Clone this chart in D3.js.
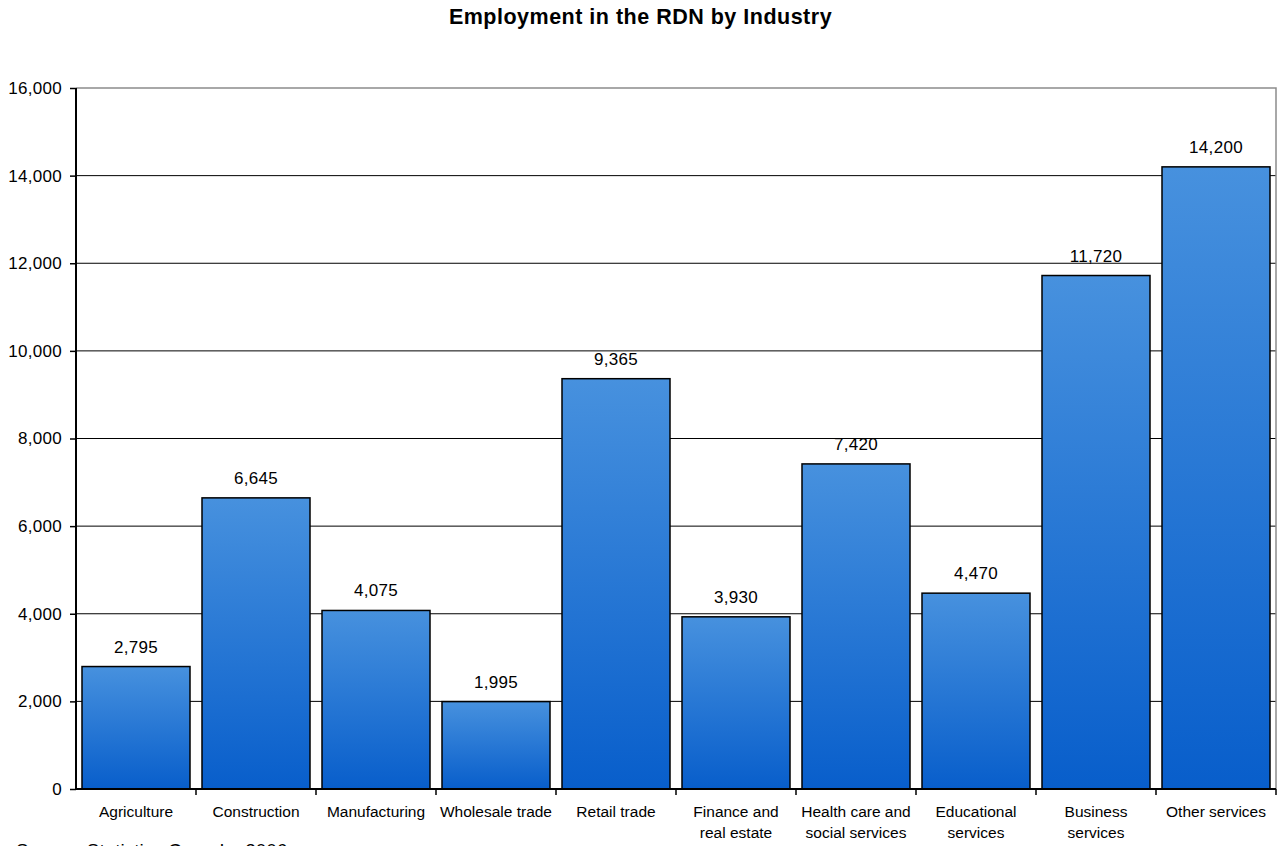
<!DOCTYPE html>
<html>
<head>
<meta charset="utf-8">
<script src="https://cdn.jsdelivr.net/npm/d3@7"></script>
<style>
  body { margin: 0; background: #fff; }
  svg { display: block; font-family: "Liberation Sans", Arial, sans-serif; }
</style>
</head>
<body>
<div id="chart"></div>
<script>
// Chart data
let industries = ["Agriculture", "Construction", "Manufacturing", "Wholesale trade", "Retail trade",
                  "Finance and real estate", "Health care and social services", "Educational services",
                  "Business services", "Other services"];
let labelLines = [["Agriculture"], ["Construction"], ["Manufacturing"], ["Wholesale trade"], ["Retail trade"],
                  ["Finance and", "real estate"], ["Health care and", "social services"], ["Educational", "services"],
                  ["Business", "services"], ["Other services"]];
let employment = [2795, 6645, 4075, 1995, 9365, 3930, 7420, 4470, 11720, 14200];
let yTicks = [0, 2000, 4000, 6000, 8000, 10000, 12000, 14000, 16000];

// Layout
let svgWidth = 1281, svgHeight = 846;
let margin = { top: 88, right: 5, bottom: 57, left: 76 };
let chartWidth = svgWidth - margin.left - margin.right;
let chartHeight = svgHeight - margin.top - margin.bottom;

let svg = d3.select('#chart')
            .append('svg')
            .attr('width', svgWidth)
            .attr('height', svgHeight);

// Bar gradient (light top, dark bottom)
let grad = svg.append('defs').append('linearGradient')
            .attr('id', 'barGrad')
            .attr('x1', 0).attr('y1', 0).attr('x2', 0).attr('y2', 1);
grad.append('stop').attr('offset', '0%').attr('stop-color', '#4791de');
grad.append('stop').attr('offset', '100%').attr('stop-color', '#085ecb');

// Title
svg.append('text')
    .attr('x', svgWidth / 2)
    .attr('y', 24)
    .attr('text-anchor', 'middle')
    .attr('font-size', 21.5)
    .attr('letter-spacing', 0.5)
    .attr('font-weight', 'bold')
    .text('Employment in the RDN by Industry');

let chartGrp = svg.append('g')
            .attr('transform', `translate(${margin.left}, ${margin.top})`);

// Scales
let xScale = d3.scaleBand()
            .domain(industries)
            .range([0, chartWidth])
            .paddingInner(0.1)
            .paddingOuter(0.05);
let yScale = d3.scaleLinear()
            .domain([0, 16000])
            .range([chartHeight, 0]);

// Gridlines
chartGrp.append('g')
    .selectAll('line')
    .data(yTicks.filter(d => d > 0 && d < 16000))
    .enter()
    .append('line')
    .attr('x1', 0).attr('x2', chartWidth)
    .attr('y1', d => yScale(d)).attr('y2', d => yScale(d))
    .attr('stroke', '#000')
    .attr('stroke-width', 1);

// Plot border top & right (grey)
chartGrp.append('path')
    .attr('d', `M0,${yScale(16000)}H${chartWidth}V${chartHeight}`)
    .attr('fill', 'none')
    .attr('stroke', '#8c8c8c')
    .attr('stroke-width', 1.5);

// Bars
chartGrp.selectAll('rect.bar')
    .data(employment)
    .enter()
    .append('rect')
    .attr('class', 'bar')
    .attr('x', (d, i) => xScale(industries[i]))
    .attr('y', d => yScale(d))
    .attr('width', xScale.bandwidth())
    .attr('height', d => chartHeight - yScale(d))
    .attr('fill', 'url(#barGrad)')
    .attr('stroke', '#000')
    .attr('stroke-width', 1.5);

// Value labels
chartGrp.selectAll('text.val')
    .data(employment)
    .enter()
    .append('text')
    .attr('class', 'val')
    .attr('x', (d, i) => xScale(industries[i]) + xScale.bandwidth() / 2)
    .attr('y', d => yScale(d) - 14)
    .attr('text-anchor', 'middle')
    .attr('font-size', 17)
    .attr('letter-spacing', 0.3)
    .text(d => d3.format(',')(d));

// Y axis
let yAxis = d3.axisLeft(yScale)
            .tickValues(yTicks)
            .tickSize(6)
            .tickPadding(8)
            .tickFormat(d3.format(','));
let yG = chartGrp.append('g').call(yAxis);
yG.select('.domain').attr('stroke', '#000').attr('stroke-width', 2).attr('d', `M0,0V${chartHeight}`);
yG.selectAll('.tick line').attr('stroke', '#000').attr('stroke-width', 1.5);
yG.selectAll('.tick text').attr('font-size', 17).attr('letter-spacing', 0.3)
    .attr('fill', '#000').attr('font-family', null);

// X axis line & ticks between bands
chartGrp.append('line')
    .attr('x1', 0).attr('x2', chartWidth)
    .attr('y1', chartHeight).attr('y2', chartHeight)
    .attr('stroke', '#000').attr('stroke-width', 2);

let step = xScale.step();
chartGrp.append('g')
    .selectAll('line')
    .data(industries)
    .enter()
    .append('line')
    .attr('x1', (d, i) => xScale(d) + xScale.bandwidth() + step * xScale.paddingInner() / 2)
    .attr('x2', (d, i) => xScale(d) + xScale.bandwidth() + step * xScale.paddingInner() / 2)
    .attr('y1', chartHeight).attr('y2', chartHeight + 6)
    .attr('stroke', '#000').attr('stroke-width', 1.5);

// X labels
let xLab = chartGrp.append('g')
    .selectAll('text')
    .data(labelLines)
    .enter()
    .append('text')
    .attr('text-anchor', 'middle')
    .attr('font-size', 15.5)
    .attr('x', (d, i) => xScale(industries[i]) + xScale.bandwidth() / 2)
    .attr('y', chartHeight + 28);
xLab.selectAll('tspan')
    .data(d => d)
    .enter()
    .append('tspan')
    .attr('x', function() { return d3.select(this.parentNode).attr('x'); })
    .attr('dy', (d, i) => i === 0 ? 0 : 21)
    .text(d => d);

// Source note
svg.append('text')
    .attr('x', 16)
    .attr('y', 857)
    .attr('font-size', 19)
    .text('Source: Statistics Canada, 2006');
</script>
</body>
</html>
